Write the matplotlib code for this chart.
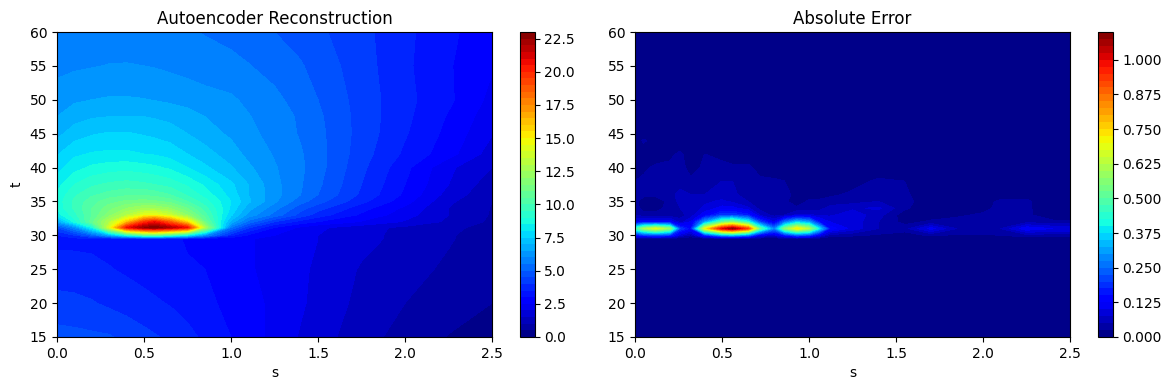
import numpy as np
import matplotlib
matplotlib.use("Agg")
import matplotlib.pyplot as plt

S_REC = [0, .1, .2, .3, .4, .5, .56, .65, .75, .85, 1, 1.1, 1.25, 1.4, 1.5, 1.75, 2, 2.25, 2.5]
T_REC = [15, 20, 25, 29.5, 30, 31.15, 32, 33, 34, 35, 36, 37.5, 40, 42, 45, 47.5, 50, 55, 60]
RECON = [
    [4.7, 4.65, 4.6, 4.55, 4.35, 4.15, 4.05, 3.9, 3.65, 3.4, 3.0, 2.75, 2.35, 1.95, 1.73, 1.2, .8, .48, .25],
    [4.15, 4.12, 4.04, 3.9, 3.78, 3.66, 3.58, 3.46, 3.3, 3.13, 2.85, 2.65, 2.4, 2.07, 1.85, 1.35, 1.0, .7, .5],
    [3.75, 3.72, 3.65, 3.53, 3.42, 3.3, 3.23, 3.15, 3.05, 3.0, 2.75, 2.55, 2.35, 2.1, 1.9, 1.45, 1.2, .9, .65],
    [3.35, 3.35, 3.35, 3.3, 3.25, 3.2, 3.15, 3.1, 2.95, 2.85, 2.65, 2.55, 2.35, 2.2, 2.0, 1.65, 1.35, 1.05, .72],
    [3.5, 4.0, 5.0, 6.5, 8.5, 10, 10.3, 9.5, 8, 6, 3.6, 2.9, 2.5, 2.25, 2.0, 1.65, 1.35, 1.05, .75],
    [4.5, 6, 8.5, 14, 20.5, 22.5, 23, 22, 20.5, 12.8, 5.5, 4.1, 3.0, 2.4, 2.1, 1.7, 1.38, 1.1, .85],
    [6.5, 8.7, 10.8, 13, 16, 19.5, 20.5, 18.5, 15.5, 11, 6.8, 5.3, 4.0, 3.3, 3.0, 2.45, 1.95, 1.4, .9],
    [8.2, 9.3, 10.5, 11.8, 13, 14.3, 14.5, 13.6, 12, 10.2, 7.6, 6.3, 5.3, 4.3, 3.75, 2.9, 2.2, 1.5, .95],
    [8.6, 9.6, 10.5, 11.3, 12, 12.5, 12.5, 12, 11, 9.7, 7.9, 6.7, 5.7, 4.7, 4.2, 3.2, 2.4, 1.5, .97],
    [8.7, 9.6, 10.3, 10.8, 11.1, 11.2, 11.1, 10.8, 10, 9.2, 8.0, 7.1, 6.1, 5.2, 4.7, 3.65, 2.7, 1.6, 1.0],
    [8.6, 9.4, 9.9, 10.2, 10.4, 10.4, 10.3, 10, 9.4, 8.8, 7.8, 7.0, 6.2, 5.5, 5.0, 3.9, 2.9, 1.8, 1.1],
    [8.3, 9.0, 9.4, 9.6, 9.7, 9.6, 9.5, 9.3, 8.9, 8.4, 7.6, 7.0, 6.15, 5.55, 5.1, 4.0, 3.0, 2.0, 1.2],
    [7.8, 8.3, 8.6, 8.75, 8.8, 8.7, 8.6, 8.4, 8.0, 7.6, 7.05, 6.6, 6.05, 5.6, 5.2, 4.12, 3.15, 2.1, 1.5],
    [7.45, 7.9, 8.05, 8.1, 8.1, 8.0, 7.95, 7.8, 7.5, 7.2, 6.75, 6.35, 5.95, 5.55, 5.2, 4.22, 3.4, 2.7, 1.75],
    [6.85, 7.25, 7.45, 7.55, 7.55, 7.45, 7.38, 7.25, 7.0, 6.75, 6.4, 6.15, 5.8, 5.45, 5.15, 4.3, 3.55, 2.85, 2.03],
    [6.5, 6.8, 6.95, 7.0, 7.02, 7.0, 6.95, 6.85, 6.72, 6.5, 6.2, 6.03, 5.75, 5.42, 5.1, 4.3, 3.62, 2.95, 2.2],
    [6.25, 6.42, 6.5, 6.55, 6.55, 6.52, 6.48, 6.4, 6.3, 6.2, 6.07, 5.9, 5.65, 5.25, 5.0, 4.28, 3.65, 3.1, 2.35],
    [5.85, 5.92, 5.97, 6.02, 6.03, 6.0, 5.97, 5.9, 5.82, 5.72, 5.68, 5.53, 5.28, 5.05, 4.8, 4.22, 3.6, 3.05, 2.55],
    [5.7, 5.7, 5.7, 5.7, 5.7, 5.7, 5.65, 5.6, 5.55, 5.47, 5.3, 5.15, 5.0, 4.78, 4.6, 4.15, 3.63, 3.1, 2.7],
]

S_ERR = [0, .05, .12, .2, .26, .32, .4, .5, .56, .65, .72, .8, .86, .93, 1.0, 1.06, 1.12,
         1.25, 1.4, 1.55, 1.7, 1.85, 2.0, 2.1, 2.25, 2.4, 2.5]
T_ERR = [15, 29.5, 30, 31, 32, 33, 34, 35, 36, 38, 40, 42, 44, 45, 60]
ERROR = [
    [.003] * 27,
    [.005] * 27,
    [.14, .18, .2, .18, .08, .04, .16, .3, .32, .26, .1, .08, .15, .22, .2, .1, .04, .03, .02, .01, .03, .02, .02, .025, .04, .035, .035],
    [.45, .6, .68, .58, .2, .14, .7, 1.0, 1.08, .92, .5, .27, .55, .72, .62, .38, .14, .09, .05, .04, .11, .05, .05, .05, .12, .1, .1],
    [.1, .12, .12, .12, .06, .1, .3, .5, .55, .42, .2, .1, .25, .35, .3, .14, .1, .09, .05, .015, .03, .035, .035, .03, .04, .03, .03],
    [.05, .03, .03, .03, .04, .06, .12, .2, .2, .16, .07, .04, .05, .08, .08, .07, .07, .09, .06, .01, .01, .02, .03, .03, .03, .01, .005],
    [.03, .02, .02, .03, .05, .06, .08, .11, .11, .08, .04, .03, .03, .03, .03, .04, .06, .07, .08, .03, .005, .005, .015, .035, .03, .005, .005],
    [.03, .015, .015, .03, .06, .055, .07, .08, .07, .05, .035, .03, .03, .01, .03, .03, .035, .04, .05, .035, .005, .005, .015, .03, .03, .005, .005],
    [.03, .03, .03, .04, .06, .05, .05, .06, .055, .04, .03, .03, .03, .02, .01, .015, .02, .03, .035, .03, .005, .005, .005, .01, .015, .005, .005],
    [.025, .03, .03, .03, .035, .03, .03, .05, .05, .035, .03, .03, .025, .015, .005, .005, .005, .015, .03, .025, .01, .005, .005, .005, .005, .005, .005],
    [.015, .02, .03, .03, .035, .015, .03, .03, .03, .03, .015, .005, .005, .005, .005, .005, .005, .005, .005, .005, .005, .005, .005, .005, .005, .005, .005],
    [.005, .005, .01, .02, .03, .01, .025, .02, .01, .01, .005, .005, .005, .005, .005, .005, .005, .005, .005, .005, .005, .005, .005, .005, .005, .005, .005],
    [.01, .03, .01, .005, .005, .005, .005, .005, .005, .005, .005, .005, .005, .005, .005, .005, .005, .005, .005, .005, .005, .005, .005, .005, .005, .005, .005],
    [.005] * 27,
    [.003] * 27,
]

W, H = 1171, 390
fig = plt.figure(figsize=(W / 100, H / 100), dpi=100)


def box(x0, x1, y0, y1):
    return [x0 / W, 1 - y1 / H, (x1 - x0) / W, (y1 - y0) / H]


panels = [
    (S_REC, T_REC, RECON, "Autoencoder Reconstruction", box(57, 492, 32, 337), box(519.5, 534.5, 32, 337)),
    (S_ERR, T_ERR, ERROR, "Absolute Error", box(635, 1070, 32, 337), box(1097.5, 1112.5, 32, 337)),
]
for i, (s, t, z, title, rect, crect) in enumerate(panels):
    ax = fig.add_axes(rect)
    cax = fig.add_axes(crect)
    cs = ax.contourf(s, t, np.array(z), levels=50, cmap="jet")
    fig.colorbar(cs, cax=cax)
    ax.set_title(title)
    ax.set_xlabel("s")
    if i == 0:
        ax.set_ylabel("t")
    ax.set_xlim(0, 2.5)
    ax.set_ylim(15, 60)

fig.savefig("out.png", dpi=100)
